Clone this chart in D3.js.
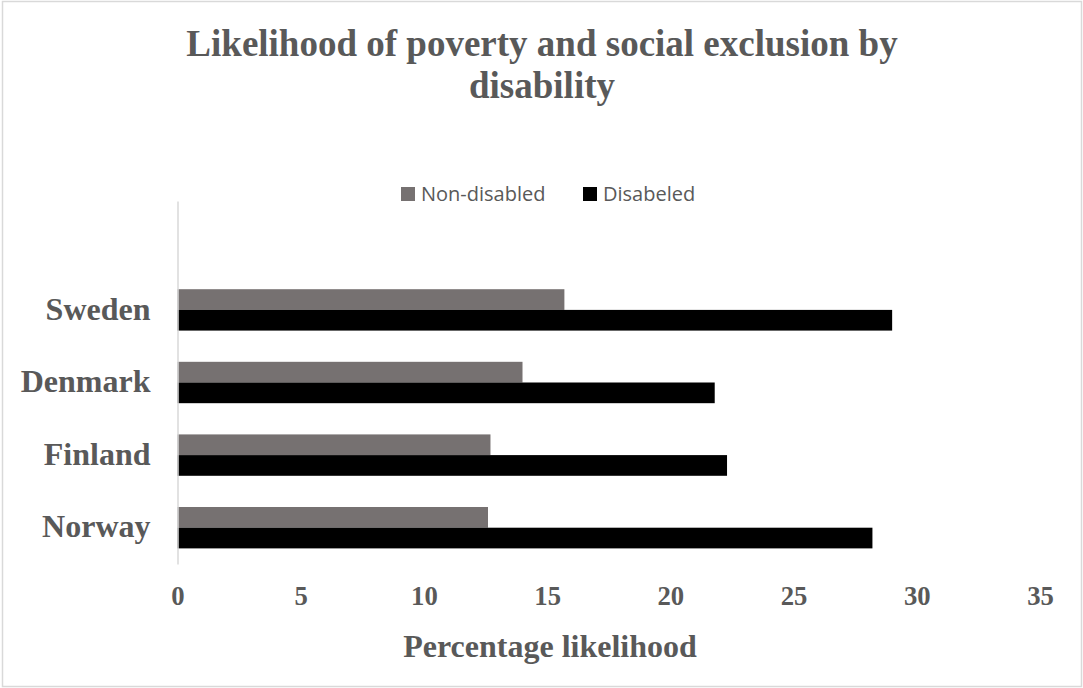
<!DOCTYPE html>
<html>
<head>
<meta charset="utf-8">
<script src="https://d3js.org/d3.v7.min.js"></script>
<style>
  body { margin: 0; background: #fff; }
  .serif { font-family: "Liberation Serif", "Times New Roman", serif; font-weight: bold; fill: #595959; }
</style>
</head>
<body>
<div id="chart"></div>
<script>
// Chart data (top to bottom order is reversed, Norway sits at the bottom)
var countries = ["Norway", "Finland", "Denmark", "Sweden"];
var nonDisabled = [12.6, 12.7, 14.0, 15.7];
var disabled = [28.2, 22.3, 21.8, 29.0];
var seriesNames = ["Non-disabled", "Disabeled"];
var seriesColors = ["#767171", "#000000"];
var xTicks = [0, 5, 10, 15, 20, 25, 30, 35];

var svgWidth = 1083;
var svgHeight = 688;

var svg = d3.select("#chart")
  .append("svg")
  .attr("width", svgWidth)
  .attr("height", svgHeight);

// chart border
svg.append("rect")
  .attr("x", 2.5)
  .attr("y", 1.5)
  .attr("width", 1079)
  .attr("height", 685)
  .attr("fill", "#fff")
  .attr("stroke", "#d9d9d9")
  .attr("stroke-width", 1.5);

// scales
var x = d3.scaleLinear()
  .domain([0, 35])
  .range([177.5, 1040]);

// the workbook has an empty row above Sweden, so keep a blank slot on top
var y = d3.scaleBand()
  .domain(countries.concat([""]))
  .range([564, 201])
  .paddingInner(0.43)
  .paddingOuter(0.215);

var ySeries = d3.scaleBand()
  .domain(seriesNames)
  .range([0, y.bandwidth()]);

var rows = countries.map(function(c, i) {
  return { country: c, values: [nonDisabled[i], disabled[i]] };
});

// bars
var groups = svg.selectAll(".row")
  .data(rows)
  .enter()
  .append("g")
  .attr("class", "row")
  .attr("transform", d => `translate(0, ${y(d.country)})`);

groups.selectAll("rect")
  .data(d => d.values.map((v, j) => ({ name: seriesNames[j], value: v, color: seriesColors[j] })))
  .enter()
  .append("rect")
  .attr("x", x(0))
  .attr("y", d => ySeries(d.name))
  .attr("width", d => x(d.value) - x(0))
  .attr("height", ySeries.bandwidth())
  .attr("fill", d => d.color);

// y axis (domain line kept as the light vertical rule)
var leftAxis = d3.axisLeft(y)
  .tickValues(countries)
  .tickSizeInner(0)
  .tickSizeOuter(0)
  .tickPadding(27);

var yAxis = svg.append("g")
  .attr("transform", `translate(${x(0)}, 0)`)
  .call(leftAxis);

yAxis.select(".domain")
  .attr("stroke", "#d9d9d9")
  .attr("stroke-width", 1.5);

yAxis.selectAll("text")
  .attr("class", "serif")
  .attr("font-size", 32)
  .attr("dy", "0.3em");

// x axis
var bottomAxis = d3.axisBottom(x)
  .tickValues(xTicks)
  .tickSize(0)
  .tickPadding(22);

var xAxis = svg.append("g")
  .attr("transform", "translate(0, 564)")
  .call(bottomAxis);

xAxis.select(".domain").remove();
xAxis.selectAll("text")
  .attr("class", "serif")
  .attr("font-size", 26.7);

// title
var title = svg.append("text")
  .attr("class", "serif")
  .attr("text-anchor", "middle")
  .attr("font-size", 37);

title.append("tspan")
  .attr("x", 542)
  .attr("y", 56)
  .text("Likelihood of poverty and social exclusion by");

title.append("tspan")
  .attr("x", 542)
  .attr("y", 98)
  .text("disability");

// x axis title
svg.append("text")
  .attr("class", "serif")
  .attr("text-anchor", "middle")
  .attr("x", 550)
  .attr("y", 657)
  .attr("font-size", 32)
  .text("Percentage likelihood");

// legend
var legendX = [401, 583];
var legend = svg.selectAll(".legend")
  .data(seriesNames)
  .enter()
  .append("g")
  .attr("class", "legend")
  .attr("transform", (d, i) => `translate(${legendX[i]}, 187)`);

legend.append("rect")
  .attr("width", 14)
  .attr("height", 14)
  .attr("fill", (d, i) => seriesColors[i]);

legend.append("text")
  .attr("x", 20)
  .attr("y", 14)
  .attr("font-family", "'Open Sans', sans-serif")
  .attr("font-size", 20)
  .attr("fill", "#595959")
  .text(d => d);
</script>
</body>
</html>
